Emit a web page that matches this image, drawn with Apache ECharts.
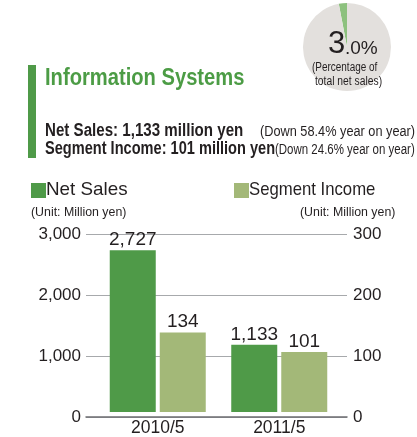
<!DOCTYPE html>
<html>
<head>
<meta charset="utf-8">
<script src="https://cdn.jsdelivr.net/npm/echarts@6/dist/echarts.min.js"></script>
<style>
html,body{margin:0;padding:0;background:#fff;}
#c{width:417px;height:437px;}
</style>
</head>
<body>
<div id="c"></div>
<script>
const categories = ['2010/5', '2011/5'];
const netSales = [2727, 1133];
const segmentIncome = [134, 101];
const netSalesLabels = ['2,727', '1,133'];
const segmentIncomeLabels = ['134', '101'];
const leftTicks = { min: 0, max: 3000, interval: 1000 };
const rightTicks = { min: 0, max: 300, interval: 100 };
const shareOfTotal = [3.0, 97.0];

const F = '"Liberation Sans", Arial, Helvetica, sans-serif';
const DARK = '#4f9a48';
const LIGHT = '#a3b878';
const TXT = '#231f20';

const chart = echarts.init(document.getElementById('c'), null, { renderer: 'canvas' });
const fmt = v => v.toLocaleString('en-US');

function txt(x, y, text, font, opts) {
  opts = opts || {};
  return {
    type: 'text', x: x, y: y, z: 100, zlevel: 0,
    scaleX: opts.sx || 1,
    style: {
      text: text, fill: opts.fill || TXT, font: font,
      textAlign: opts.align || 'left', textVerticalAlign: 'middle'
    }
  };
}

chart.setOption({
  backgroundColor: '#fff',
  animation: false,
  textStyle: { fontFamily: F },
  grid: [
    { left: 86, right: 70, top: 234, bottom: 20, containLabel: false },
    { left: 97, right: 77, top: 234, bottom: 20, containLabel: false }
  ],
  xAxis: [
    { gridIndex: 0, type: 'category', data: categories,
      axisLine: { lineStyle: { color: '#6d6e71', width: 1.5 } },
      axisTick: { show: false }, axisLabel: { show: false } },
    { gridIndex: 1, type: 'category', data: categories,
      axisLine: { show: false }, axisTick: { show: false },
      axisLabel: { color: TXT, fontFamily: F, fontSize: 17.5, margin: 7 } }
  ],
  yAxis: [
    { gridIndex: 0, type: 'value', position: 'left', min: leftTicks.min, max: leftTicks.max, interval: leftTicks.interval,
      axisLine: { show: false }, axisTick: { show: false },
      axisLabel: { color: TXT, fontFamily: F, fontSize: 17, margin: 5, formatter: fmt },
      splitLine: { lineStyle: { color: '#a7a9ac', width: 1 } } },
    { gridIndex: 0, type: 'value', position: 'right', min: rightTicks.min, max: rightTicks.max, interval: rightTicks.interval,
      axisLine: { show: false }, axisTick: { show: false },
      axisLabel: { color: TXT, fontFamily: F, fontSize: 17, margin: 6 },
      splitLine: { show: false } },
    { gridIndex: 1, type: 'value', min: leftTicks.min, max: leftTicks.max, show: false, splitLine: { show: false } },
    { gridIndex: 1, type: 'value', min: rightTicks.min, max: rightTicks.max, show: false, splitLine: { show: false } }
  ],
  series: [
    { type: 'bar', name: 'Net Sales', xAxisIndex: 1, yAxisIndex: 2, data: netSales,
      barWidth: 46, barGap: '8.7%', itemStyle: { color: DARK },
      label: { show: true, position: 'top', distance: 1, color: TXT, fontFamily: F, fontSize: 19,
        formatter: p => netSalesLabels[p.dataIndex] } },
    { type: 'bar', name: 'Segment Income', xAxisIndex: 1, yAxisIndex: 3, data: segmentIncome,
      barWidth: 46, barGap: '8.7%', itemStyle: { color: LIGHT },
      label: { show: true, position: 'top', distance: 1, color: TXT, fontFamily: F, fontSize: 19,
        formatter: p => segmentIncomeLabels[p.dataIndex] } },
    { type: 'pie', center: [347, 47], radius: 44, startAngle: 90, clockwise: false, silent: true, z: 1,
      label: { show: false }, labelLine: { show: false },
      data: [
        { value: shareOfTotal[0], itemStyle: { color: '#8dc17e' } },
        { value: shareOfTotal[1], itemStyle: { color: '#e3e0dd' } }
      ] }
  ],
  graphic: [
    { type: 'rect', z: 100, shape: { x: 28, y: 65, width: 8, height: 93 }, style: { fill: DARK } },
    txt(45, 78.5, 'Information Systems', 'bold 24px ' + F, { fill: '#4c9c45', sx: 0.84 }),
    txt(45, 131.5, 'Net Sales: 1,133 million yen', 'bold 18px ' + F, { sx: 0.84 }),
    txt(260, 132, '(Down 58.4% year on year)', '14px ' + F, { sx: 0.91 }),
    txt(45, 149.5, 'Segment Income: 101 million yen', 'bold 18px ' + F, { sx: 0.81 }),
    txt(275, 150, '(Down 24.6% year on year)', '14px ' + F, { sx: 0.82 }),
    { type: 'rect', z: 100, shape: { x: 31, y: 183, width: 15, height: 15 }, style: { fill: DARK } },
    txt(46, 190, 'Net Sales', '19px ' + F, { sx: 0.99 }),
    { type: 'rect', z: 100, shape: { x: 234, y: 183, width: 15, height: 15 }, style: { fill: LIGHT } },
    txt(249, 190, 'Segment Income', '19px ' + F, { sx: 0.88 }),
    txt(31, 212, '(Unit: Million yen)', '13px ' + F, { sx: 0.95 }),
    txt(300, 212, '(Unit: Million yen)', '13px ' + F, { sx: 0.95 }),
    txt(328, 44, '3', '31px ' + F),
    txt(345, 48.5, '.0%', '19px ' + F),
    txt(312, 68, '(Percentage of', '12px ' + F, { sx: 0.83 }),
    txt(315, 82, 'total net sales)', '12px ' + F, { sx: 0.86 })
  ]
});
</script>
</body>
</html>
